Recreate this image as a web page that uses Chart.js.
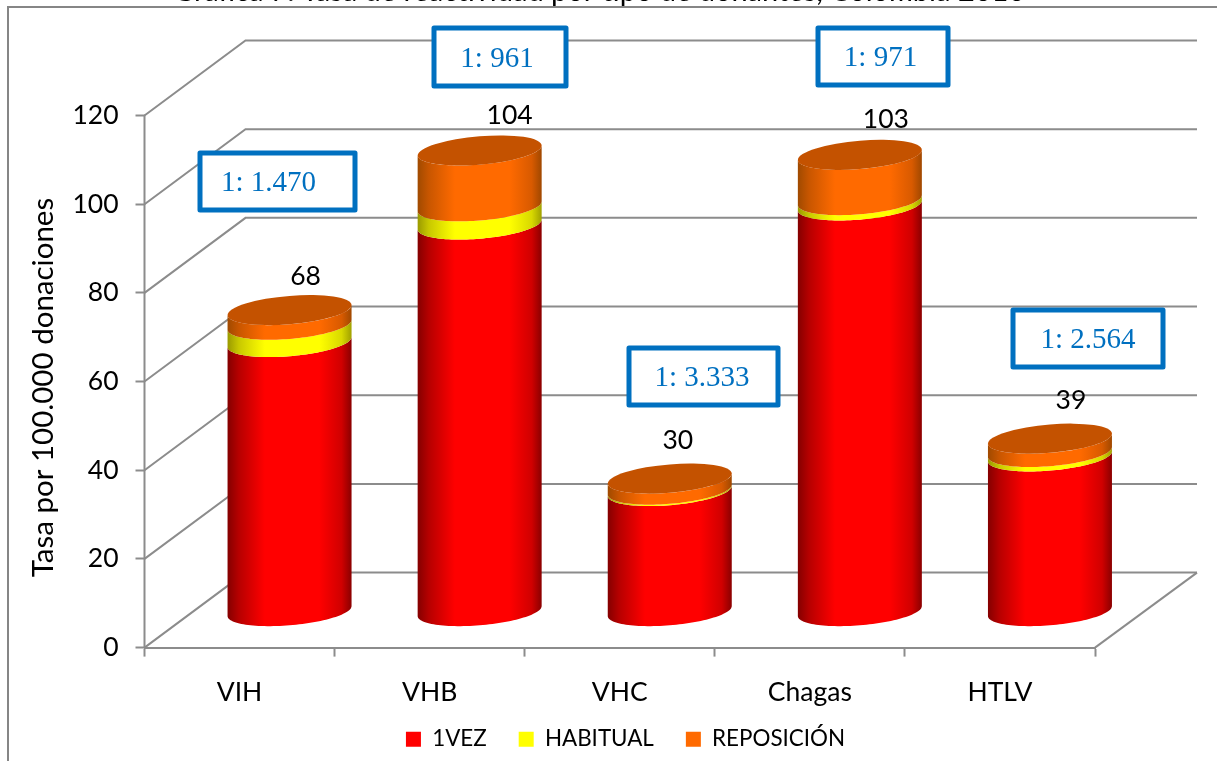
<!DOCTYPE html>
<html lang="es">
<head>
<meta charset="utf-8">
<title>Tasa por 100.000 donaciones</title>
<style>html,body{margin:0;padding:0;background:#fff;overflow:hidden}canvas{display:block}</style>
<script src="https://cdn.jsdelivr.net/npm/chart.js@4"></script>
</head>
<body>
<canvas id="c" width="1217" height="761"></canvas>
<script>
const categories = ['VIH', 'VHB', 'VHC', 'Chagas', 'HTLV'];
const unaVez = [60.8, 87.3, 27.2, 91.6, 35];
const habitual = [3.9, 4.1, 0.3, 1.2, 1];
const reposicion = [3.3, 12.6, 2.5, 10.2, 3];
const totals = [68, 104, 30, 103, 39];
const ratios = ['1: 1.470', '1: 961', '1: 3.333', '1: 971', '1: 2.564'];
const yTicks = [0, 20, 40, 60, 80, 100, 120];
const axisTitle = 'Tasa por 100.000 donaciones';
const clippedTitle = 'Gráfica 7. Tasa de reactividad por tipo de donantes, Colombia 2016';

const GRID = '#8c8c8c', FONT = 'Lato, Carlito, sans-serif';
const DX = 101, DY = -75;           // depth of the 3D floor
const R = 62, TILT = 5, K = 14.2;   // cylinder cross-section
const BAR_DX = 50, BAR_DY = -36;    // cylinder axis inside the depth
const labelOffset = [[16, -34], [30, -35], [8, -38], [26, -35], [21, -38]];
const boxes = [[200,153,155,57],[434,28,132,58],[629,348,149,57],[818,28,130,57],[1013,310,150,57]];
const ratioDx = [-9, -3, -1.5, -2.5, 0];

const shades = [
  ['#840000','#b60000','#ff0000','#ff0000','#d00000','#8a0000'],
  ['#9a9a00','#c8c800','#ffff00','#ffff00','#d8d800','#a0a000'],
  ['#a04a00','#c85600','#ff6a00','#ff6a00','#d85a00','#a04800']
];
const TOP_COLOR = '#c45200';

function frontArc(cx, cy, reverse) {
  const pts = [];
  for (let i = 0; i <= 60; i++) {
    const t = Math.PI - Math.PI * i / 60;
    pts.push([cx + R * Math.cos(t), cy - TILT * Math.cos(t) + K * Math.sin(t)]);
  }
  return reverse ? pts.reverse() : pts;
}

const scene = {
  id: 'scene',
  afterLayout(chart) {
    const l = chart.legend;
    const shiftX = 68, shiftY = 696 - l.top;
    l.left += shiftX; l.right += shiftX; l.top += shiftY; l.bottom += shiftY;
    chart.scales.x.bottom = 725;   // room for the category labels
    chart.scales.y.bottom += 12;   // axis title sits slightly below the plot centre
  },
  beforeDatasetsDraw(chart) {
    const ctx = chart.ctx, y = chart.scales.y, a = chart.chartArea;
    ctx.save();
    ctx.strokeStyle = '#868686'; ctx.lineWidth = 2;
    ctx.beginPath(); ctx.moveTo(8, 761); ctx.lineTo(8, 7); ctx.lineTo(1217, 7); ctx.stroke();
    ctx.strokeStyle = GRID; ctx.lineWidth = 2;
    ctx.beginPath(); ctx.moveTo(a.left, a.top); ctx.lineTo(a.left, a.bottom); ctx.stroke();
    yTicks.forEach(v => {
      const py = y.getPixelForValue(v);
      ctx.beginPath();
      ctx.moveTo(a.left, py);
      ctx.lineTo(a.left + DX, py + DY);
      ctx.lineTo(a.right + DX + 1, py + DY);
      ctx.stroke();
    });
    const fy = y.getPixelForValue(0);
    ctx.beginPath(); ctx.moveTo(a.right, fy); ctx.lineTo(a.right + DX + 1, fy + DY); ctx.stroke();
    categories.forEach((_, j) => {
      let cx, topY;
      chart.data.datasets.forEach((ds, i) => {
        const el = chart.getDatasetMeta(i).data[j];
        cx = el.x + BAR_DX;
        const y0 = el.base + BAR_DY, y1 = el.y + BAR_DY;
        topY = y1;
        const g = ctx.createLinearGradient(cx - R, 0, cx + R, 0);
        [0, .09, .3, .74, .92, 1].forEach((s, n) => g.addColorStop(s, shades[i][n]));
        ctx.fillStyle = g;
        ctx.beginPath();
        frontArc(cx, y1, false).forEach((p, n) => n ? ctx.lineTo(p[0], p[1]) : ctx.moveTo(p[0], p[1]));
        frontArc(cx, y0, true).forEach(p => ctx.lineTo(p[0], p[1]));
        ctx.closePath();
        ctx.fill();
      });
      ctx.save();
      ctx.transform(R, -TILT, 0, K, cx, topY);
      ctx.beginPath(); ctx.arc(0, 0, 1, 0, Math.PI * 2);
      ctx.restore();
      ctx.fillStyle = TOP_COLOR;
      ctx.fill();
    });
    ctx.restore();
    return false;
  },
  afterDraw(chart) {
    const ctx = chart.ctx;
    ctx.save();
    ctx.fillStyle = '#000';
    ctx.textAlign = 'left'; ctx.textBaseline = 'alphabetic';
    ctx.font = '29px ' + FONT;
    ctx.fillText(clippedTitle, 173, 1);
    ctx.textAlign = 'center'; ctx.textBaseline = 'middle';
    ctx.font = '26.5px ' + FONT;
    const top = chart.data.datasets.length - 1;
    totals.forEach((t, j) => {
      const el = chart.getDatasetMeta(top).data[j];
      ctx.fillText(String(t), el.x + BAR_DX + labelOffset[j][0], el.y + BAR_DY + labelOffset[j][1]);
    });
    ratios.forEach((r, j) => {
      const [x, y, w, h] = boxes[j];
      ctx.fillStyle = '#fff';
      ctx.fillRect(x, y, w, h);
      ctx.strokeStyle = '#0070c0'; ctx.lineWidth = 5; ctx.lineJoin = 'round';
      ctx.strokeRect(x, y, w, h);
      ctx.fillStyle = '#0070c0';
      ctx.font = '29px "Liberation Serif", serif';
      ctx.fillText(r, x + w / 2 + ratioDx[j], y + h / 2 + 2);
    });
    ctx.restore();
  }
};

new Chart(document.getElementById('c'), {
  type: 'bar',
  data: {
    labels: categories,
    datasets: [
      { label: '1VEZ', data: unaVez, backgroundColor: '#ff0000' },
      { label: 'HABITUAL', data: habitual, backgroundColor: '#ffff00' },
      { label: 'REPOSICIÓN', data: reposicion, backgroundColor: '#ff6a00' }
    ]
  },
  plugins: [scene],
  options: {
    responsive: false,
    animation: false,
    layout: { padding: { top: 115.5, left: 20, right: 122, bottom: 0 } },
    plugins: {
      tooltip: { enabled: false },
      legend: {
        position: 'bottom',
        labels: {
          boxWidth: 15, boxHeight: 15, padding: 32,
          color: '#000', font: { family: FONT, size: 22.4 }
        }
      }
    },
    scales: {
      x: {
        stacked: true,
        afterFit(s) { s.height = 49; },
        grid: { drawOnChartArea: false, tickLength: 9, tickColor: GRID, tickWidth: 2, offset: true },
        border: { color: GRID, width: 2 },
        ticks: { color: '#000', font: { family: FONT, size: 26.5 }, padding: 20, maxRotation: 0 }
      },
      y: {
        stacked: true,
        min: 0, max: 120,
        afterFit(s) { s.width = 124.5; },
        grid: { drawOnChartArea: false, tickLength: 9, tickColor: GRID, tickWidth: 2 },
        border: { display: false },
        ticks: { stepSize: 20, color: '#000', font: { family: FONT, size: 26.5 }, padding: 17 },
        title: {
          display: true, text: axisTitle, color: '#000',
          font: { family: FONT, size: 29.5 }, padding: { top: 6, bottom: 0 }
        }
      }
    }
  }
});
</script>
</body>
</html>
